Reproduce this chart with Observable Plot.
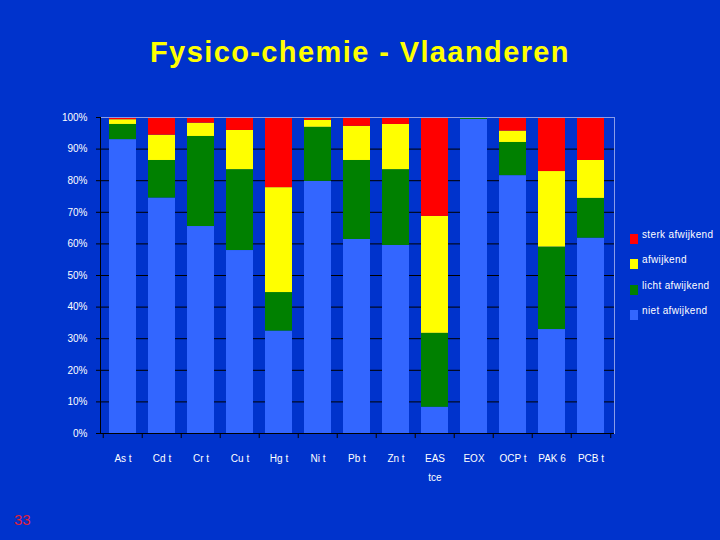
<!DOCTYPE html>
<html>
<head>
<meta charset="utf-8">
<script src="https://cdn.jsdelivr.net/npm/d3@7"></script>
<script src="https://cdn.jsdelivr.net/npm/@observablehq/plot@0.6"></script>
<style>
  html, body { margin: 0; padding: 0; background: #0033cc; }
  #page { position: relative; width: 720px; height: 540px; overflow: hidden;
          font-family: "Liberation Sans", Arial, sans-serif; }
  #title { position: absolute; left: 0; top: 33px; width: 720px; text-align: center;
           color: #ffff00; font-size: 29px; font-weight: bold; line-height: 38px; letter-spacing: 1.4px; }
  #chart { position: absolute; left: 0; top: 0; }
  #legend { position: absolute; left: 630px; top: 228px; }
  .item { position: relative; height: 25.4px; }
  .swatch { position: absolute; left: 0; top: 6px; width: 8px; height: 10px; }
  .label { position: absolute; left: 12px; top: 0; color: #fff; font-size: 10px;
           letter-spacing: 0.35px; white-space: nowrap; line-height: 14px; }
  #page-no { position: absolute; left: 14px; top: 511px; color: #e0203a; font-size: 15px; }
  g[aria-label="category labels"] text { letter-spacing: 1.2px; }
</style>
</head>
<body>
<div id="page">
  <div id="title">Fysico-chemie - Vlaanderen</div>
  <div id="chart"></div>
  <div id="legend"></div>
  <div id="page-no">33</div>
</div>
<script>
// Parameters (totaal) per toetsingsklasse, aandeel meetpunten in %
const categories = ["As t", "Cd t", "Cr t", "Cu t", "Hg t", "Ni t", "Pb t", "Zn t", "EAS\ntce", "EOX", "OCP t", "PAK 6", "PCB t"];
const classes = ["niet afwijkend", "licht afwijkend", "afwijkend", "sterk afwijkend"];
const classColors = ["#3366ff", "#008000", "#ffff00", "#ff0000"];

const niet  = [93.0, 74.5, 65.5, 57.9, 32.4, 79.8, 61.4, 59.5,  8.3, 99.4, 81.6, 32.9, 61.8];
const licht = [ 4.8, 11.9, 28.5, 25.6, 12.2, 17.1, 25.0, 24.0, 23.4,  0.6, 10.5, 26.1, 12.6];
const afw   = [ 1.5,  8.0,  4.2, 12.4, 33.2,  2.2, 10.8, 14.3, 37.0,  0.0,  3.6, 23.9, 12.0];
const sterk = [ 0.7,  5.6,  1.8,  4.1, 22.2,  0.9,  2.8,  2.2, 31.3,  0.0,  4.3, 17.1, 13.6];

const yTicks = [0, 10, 20, 30, 40, 50, 60, 70, 80, 90, 100];

// Long table, stacked bottom-up: niet, licht, afwijkend, sterk
const series = [niet, licht, afw, sterk];
const rows = [];
categories.forEach((c, i) => {
  series.forEach((s, k) => rows.push({param: c, klasse: classes[k], pct: s[i]}));
});

const W = 720, H = 540;
const mLeft = 100, mRight = 106, mTop = 117, mBottom = 107;
const halfStep = (W - mLeft - mRight) / categories.length / 2;

const chart = Plot.plot({
  width: W,
  height: H,
  marginLeft: mLeft,
  marginRight: mRight,
  marginTop: mTop,
  marginBottom: mBottom,
  style: { background: "transparent", color: "#fff", fontFamily: "'Liberation Sans', Arial, sans-serif", fontSize: "10px" },
  x: { domain: categories, paddingInner: 0.3, paddingOuter: 0.15, axis: null },
  y: { domain: [0, 100], axis: null },
  color: { domain: classes, range: classColors },
  marks: [
    Plot.gridY(yTicks.slice(1, -1), { stroke: "#000", strokeOpacity: 1 }),
    Plot.barY(rows, { x: "param", y: "pct", fill: "klasse", order: classes }),
    Plot.frame({ anchor: "top", stroke: "#8a9ce8" }),
    Plot.frame({ anchor: "right", stroke: "#8a9ce8" }),
    Plot.frame({ anchor: "left", stroke: "#000" }),
    Plot.ruleY([0], { stroke: "#000" }),
    Plot.axisY(yTicks, { tickFormat: d => d + "%", tickSize: 4, tickPadding: 9, stroke: "#000", fill: "#fff", label: null }),
    // category boundary ticks below the axis
    Plot.ruleX(categories, { x: d => d, y1: 0, y2: -1.6, dx: -halfStep, stroke: "#000" }),
    Plot.ruleX(categories.slice(-1), { x: d => d, y1: 0, y2: -1.6, dx: halfStep, stroke: "#000" }),
    Plot.text(categories, { x: d => d, text: d => d, frameAnchor: "bottom", lineAnchor: "top",
                            dy: 15, lineHeight: 1.9, fill: "#fff", fontSize: 10, ariaLabel: "category labels" })
  ]
});
document.getElementById("chart").appendChild(chart);

// Legend, top to bottom: sterk → niet
const legend = document.getElementById("legend");
[3, 2, 1, 0].forEach(k => {
  const item = document.createElement("div");
  item.className = "item";
  item.innerHTML = `<div class="swatch" style="background:${classColors[k]}"></div><div class="label">${classes[k]}</div>`;
  legend.appendChild(item);
});
</script>
</body>
</html>
